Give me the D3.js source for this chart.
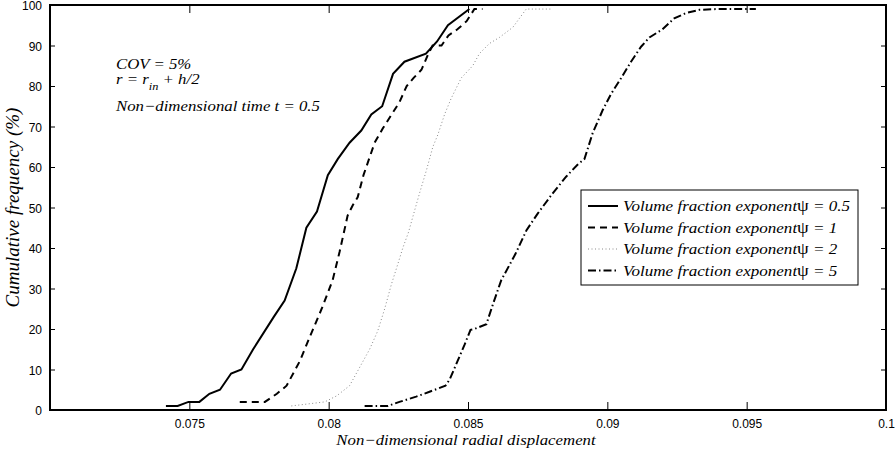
<!DOCTYPE html>
<html>
<head>
<meta charset="utf-8">
<script src="https://cdn.jsdelivr.net/npm/d3@7"></script>
<style>
  html, body { margin: 0; padding: 0; background: #fff; }
  svg { display: block; }
  .tick text { font-family: "Liberation Sans", Arial, sans-serif; font-size: 12px; fill: #000; }
  .serif { font-family: "Liberation Serif", "Times New Roman", serif; font-style: italic; fill: #000; }
</style>
</head>
<body>
<svg id="chart" width="895" height="450"></svg>
<script>
// ---- data (x: non-dimensional radial displacement, y: cumulative frequency %) ----
const legendPrefix = "Volume fraction exponent";
const psiLabels = ["0.5", "1", "2", "5"];

const psi05_x = [0.07416,0.07458,0.07497,0.07536,0.07572,0.07610,0.07650,0.07687,0.07729,0.07803,0.07842,0.07884,0.07920,0.07958,0.07997,0.08033,0.08075,0.08117,0.08153,0.08192,0.08231,0.08272,0.08349,0.08389,0.08428,0.08505];
const psi05_y = [1,1,2,2,4,5,9,10,15,23,27,35,45,49,58,62,66,69,73,75,83,86,88,91,95,99];

const psi1_x = [0.07681,0.07771,0.07814,0.07849,0.07896,0.07932,0.07975,0.08014,0.08039,0.08068,0.08086,0.08104,0.08125,0.08165,0.08194,0.08254,0.08280,0.08305,0.08333,0.08358,0.08373,0.08405,0.08430,0.08462,0.08495,0.08523,0.08552];
const psi1_y = [2,2,4,6,12,18,25,32,39,48,50.5,52.5,58,66,69.5,76,80,82,84,88,90,90,92.5,94,96,99,99];

const psi2_x = [0.07866,0.07986,0.08029,0.08075,0.08115,0.08147,0.08176,0.08201,0.08225,0.08248,0.08266,0.08287,0.08302,0.08326,0.08350,0.08374,0.08392,0.08416,0.08440,0.08476,0.08517,0.08541,0.08577,0.08613,0.08661,0.08709,0.08804];
const psi2_y = [1,2,3.5,6,11,15,19.5,25,31,36,40,44,47.7,53.5,59,65,68,73,77,82,85,88,90.5,92,94.5,99,99];

const psi5_x = [0.08129,0.08213,0.08254,0.08314,0.08362,0.08419,0.08434,0.08462,0.08487,0.08509,0.08523,0.08566,0.08589,0.08619,0.08670,0.08710,0.08750,0.08804,0.08852,0.08892,0.08918,0.08947,0.08983,0.09013,0.09049,0.09085,0.09121,0.09151,0.09198,0.09240,0.09282,0.09330,0.09390,0.09533];
const psi5_y = [1,1,2,3.3,4.5,6,7.5,12,16,19.8,20,21.2,26,32,38.5,44.4,48.5,53.5,57.6,60.5,62,68.3,74,78,81.9,86,89.7,92,94,96.7,98,98.8,99,99];

const xTicks = [0.075, 0.08, 0.085, 0.09, 0.095, 0.1];
const xTickLabels = ["0.075", "0.08", "0.085", "0.09", "0.095", "0.1"];
const yTicks = [0,10,20,30,40,50,60,70,80,90,100];

// ---- layout ----
const W = 895, H = 450;
const m = { left: 50, right: 9, top: 5, bottom: 40 };
const SX = 1.12; // horizontal stretch of the serif texts
const svg = d3.select("#chart");
const x = d3.scaleLinear().domain([0.07, 0.1]).range([m.left, W - m.right]);
const y = d3.scaleLinear().domain([0, 100]).range([H - m.bottom, m.top]);

const styles = [
  { stroke: "#000", width: 2, dash: null },
  { stroke: "#000", width: 2, dash: "7,5" },
  { stroke: "#8a8a8a", width: 1, dash: "1,2.5" },
  { stroke: "#000", width: 2, dash: "8,3,1.5,3" }
];

const series = [
  d3.zip(psi05_x, psi05_y),
  d3.zip(psi1_x, psi1_y),
  d3.zip(psi2_x, psi2_y),
  d3.zip(psi5_x, psi5_y)
];

const line = d3.line().x(d => x(d[0])).y(d => y(d[1]));

series.forEach((s, i) => {
  svg.append("path").datum(s)
    .attr("d", line)
    .attr("fill", "none")
    .attr("stroke", styles[i].stroke)
    .attr("stroke-width", styles[i].width)
    .attr("stroke-dasharray", styles[i].dash)
    .attr("stroke-linejoin", "miter");
});

// axes (box with inward ticks)
const xb = svg.append("g").attr("transform", `translate(0,${y(0)})`)
  .call(d3.axisBottom(x).tickValues(xTicks).tickFormat((d, i) => xTickLabels[i]).tickSizeInner(-8).tickSizeOuter(0).tickPadding(9));
const xt = svg.append("g").attr("transform", `translate(0,${y(100)})`)
  .call(d3.axisTop(x).tickValues(xTicks).tickFormat("").tickSizeInner(-8).tickSizeOuter(0));
const yl = svg.append("g").attr("transform", `translate(${x(0.07)},0)`)
  .call(d3.axisLeft(y).tickValues(yTicks).tickSizeInner(-5).tickSizeOuter(0).tickPadding(8));
const yr = svg.append("g").attr("transform", `translate(${x(0.1)},0)`)
  .call(d3.axisRight(y).tickValues(yTicks).tickFormat("").tickSizeInner(-5).tickSizeOuter(0));
[xb, xt, yl, yr].forEach(g => {
  g.select(".domain").remove();
  g.selectAll(".tick line").attr("stroke", "#000").attr("stroke-width", 1);
});
yl.selectAll(".tick text").attr("dy", "0.4em");
svg.append("rect")
  .attr("x", x(0.07)).attr("y", y(100))
  .attr("width", x(0.1) - x(0.07)).attr("height", y(0) - y(100))
  .attr("fill", "none").attr("stroke", "#000").attr("stroke-width", 2);

// axis labels
const cx = (x(0.07) + x(0.1)) / 2 - 2;
svg.append("g").attr("transform", `translate(${cx},445) scale(${SX},1)`)
  .append("text").attr("class", "serif")
  .attr("text-anchor", "middle").attr("font-size", 15)
  .text("Non\u2212dimensional radial displacement");
svg.append("text").attr("class", "serif")
  .attr("transform", `translate(19,${(y(0) + y(100)) / 2}) rotate(-90)`)
  .attr("text-anchor", "middle").attr("font-size", 19)
  .text("Cumulative frequency (%)");

// annotations
const ann = svg.append("g").attr("class", "serif").attr("font-size", 15)
  .attr("transform", `translate(116,0) scale(${SX},1)`);
ann.append("text").attr("x", 0).attr("y", 69).text("COV = 5%");
const r = ann.append("text").attr("x", 0).attr("y", 84);
r.append("tspan").text("r = r");
r.append("tspan").attr("dy", 6).attr("font-size", 11).text("in");
r.append("tspan").attr("dy", -6).text(" + h/2");
ann.append("text").attr("x", 0).attr("y", 111).text("Non\u2212dimensional time t = 0.5");

// legend
const lg = { x: 581, y: 190, w: 277, h: 95 };
svg.append("rect").attr("x", lg.x).attr("y", lg.y).attr("width", lg.w).attr("height", lg.h)
  .attr("fill", "#fff").attr("stroke", "#000").attr("stroke-width", 1);
psiLabels.forEach((p, i) => {
  const cy = lg.y + 16 + i * 21.5;
  svg.append("line").attr("x1", lg.x + 7).attr("x2", lg.x + 37).attr("y1", cy).attr("y2", cy)
    .attr("stroke", styles[i].stroke).attr("stroke-width", styles[i].width)
    .attr("stroke-dasharray", styles[i].dash);
  const t = svg.append("g").attr("transform", `translate(${lg.x + 42},${cy + 5}) scale(1.1,1)`)
    .append("text").attr("class", "serif").attr("font-size", 15.5);
  t.append("tspan").text(legendPrefix);
  t.append("tspan").attr("font-style", "normal").attr("font-size", 17).text("\u03C8");
  t.append("tspan").text(" = " + p);
});
</script>
</body>
</html>
